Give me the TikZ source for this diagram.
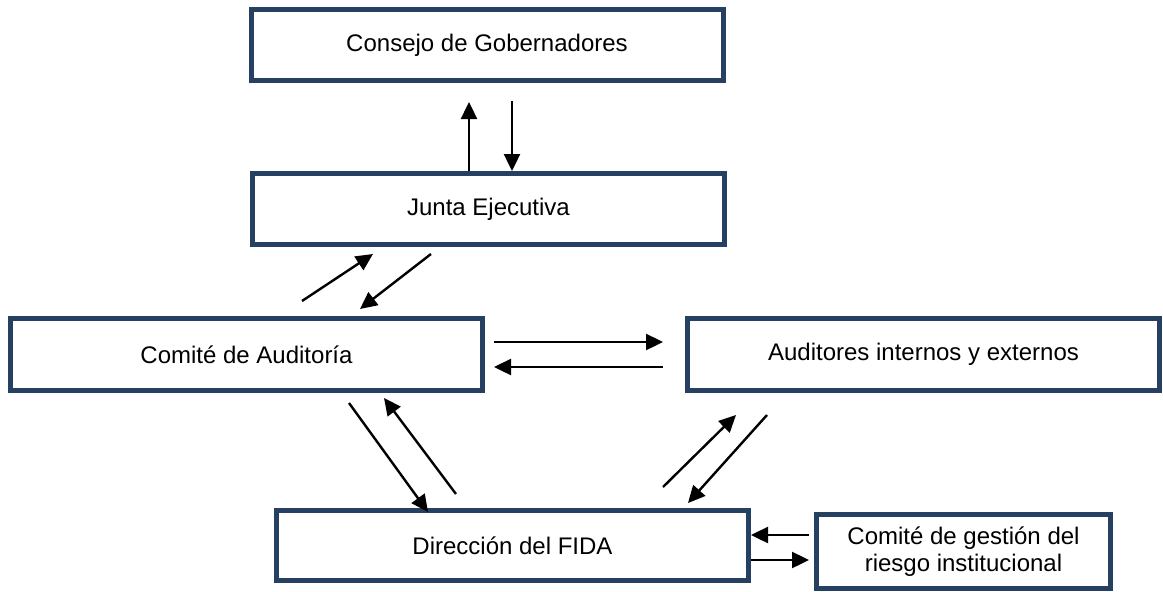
\documentclass[tikz,border=0pt]{standalone}
\usepackage{fontspec}
\setmainfont{Liberation Sans}
\usetikzlibrary{arrows.meta}
\definecolor{boxblue}{RGB}{37,64,97}

\begin{document}
\begin{tikzpicture}[x=1pt,y=-1pt,
  box/.style={draw=boxblue,line width=5pt,inner sep=0pt,minimum width=472pt,
    minimum height=71pt,align=center,font=\fontsize{24}{27}\selectfont},
  arr/.style={-{Triangle[length=17pt,width=16pt]},line width=2.4pt}]
  \useasboundingbox (0,0) rectangle (1163,592);
  % boxes
  \node[box] (gob) at (487,45) {Consejo de Gobernadores};
  \node[box] (jun) at (488.5,209) {Junta Ejecutiva};
  \node[box,minimum height=72pt] (cau) at (246.5,354.5) {Comité de Auditoría};
  \node[box,minimum height=72pt] (aud) at (923.5,354.5) {Auditores internos y externos};
  \node[box,minimum height=70pt] (dir) at (512.5,545.5) {Dirección del FIDA};
  \node[box,minimum width=294pt,minimum height=74pt] (rie) at (963.5,551.5)
    {Comité de gestión del\\riesgo institucional};
  % free ends of the arrows
  \coordinate (g1) at (469,102);  \coordinate (g2) at (512,101);
  \coordinate (j1) at (302,301);  \coordinate (j2) at (373,254);
  \coordinate (j3) at (431,254);  \coordinate (j4) at (360,309);
  \coordinate (a1) at (494,342);  \coordinate (a2) at (663,342);
  \coordinate (a3) at (663,367);  \coordinate (a4) at (494,367);
  \coordinate (d1) at (349,403);  \coordinate (d2) at (428,512);
  \coordinate (d3) at (456,494);  \coordinate (d4) at (384,398);
  \coordinate (e1) at (663,487);  \coordinate (e2) at (736,415);
  \coordinate (e3) at (767,415);  \coordinate (e4) at (688,503);
  \coordinate (r1) at (809,535);  \coordinate (r2) at (809,560);
  \path[arr]
    (jun.north -| g1) edge (g1)
    (g2) edge (g2 |- jun.north)
    (j1) edge (j2)
    (j3) edge (j4)
    (a1) edge (a2)
    (a3) edge (a4)
    (d1) edge (d2)
    (d3) edge (d4)
    (e1) edge (e2)
    (e3) edge (e4)
    (r1) edge (r1 -| dir.east)
    (r2 -| dir.east) edge (r2);
\end{tikzpicture}
\end{document}
